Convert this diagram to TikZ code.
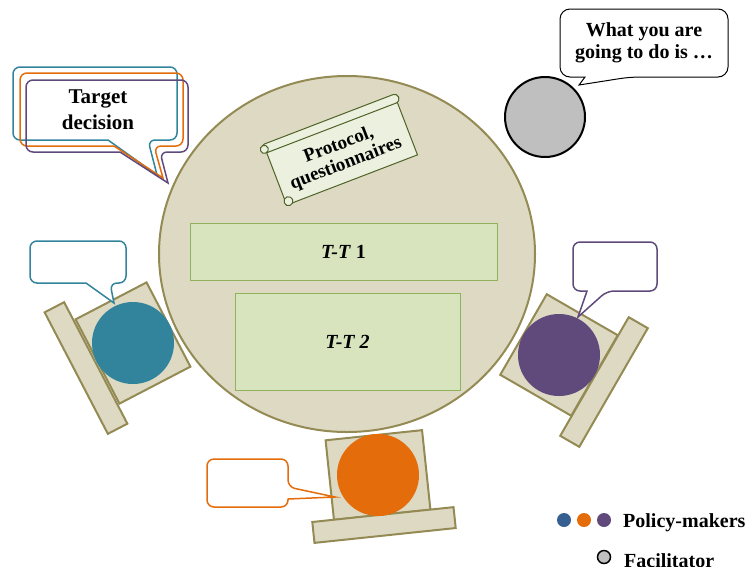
\documentclass[tikz,border=0pt]{standalone}
\usepackage{fontspec}
\setmainfont{Liberation Serif}
\usetikzlibrary{shapes.geometric}
\definecolor{tablefill}{HTML}{DDD9C3}
\definecolor{tolive}{HTML}{948A54}
\definecolor{ttfill}{HTML}{D7E4BD}
\definecolor{ttline}{HTML}{8EB35A}
\definecolor{scrollfill}{HTML}{EBF1DE}
\definecolor{scrollline}{HTML}{4F6228}
\definecolor{pmteal}{HTML}{31849B}
\definecolor{pmorange}{HTML}{E46C0A}
\definecolor{pmpurple}{HTML}{604A7B}
\definecolor{pmblue}{HTML}{376092}
\definecolor{facgray}{HTML}{BFBFBF}
\begin{document}
\begin{tikzpicture}[x=1pt,y=-1pt,
  seat/.style={draw=tolive, fill=tablefill, line width=2pt, inner sep=0pt},
  person/.style={circle, fill=#1, inner sep=0pt, minimum size=82pt},
  bub/.style={line width=1.5pt, rounded corners=7pt},
  lbl/.style={font=\bfseries\fontsize{20}{22}\selectfont, align=center},
  ttbox/.style={draw=ttline, fill=ttfill, line width=1pt, inner sep=0pt, font=\bfseries\fontsize{20}{22}\selectfont},
  dot/.style={circle, fill=#1, inner sep=0pt, minimum size=14pt}]
\useasboundingbox (0,0) rectangle (751,566);

% table
\node[ellipse, draw=tolive, fill=tablefill, line width=2pt, minimum width=376pt, minimum height=356pt, inner sep=0pt] (table) at (347,254) {};
\node[ttbox, minimum width=307pt, minimum height=57pt] (tt1) at (343.5,251.5) {\textit{T-T} 1};
\node[ttbox, minimum width=225pt, minimum height=97pt] (tt2) at (347.5,341.5) {\textit{T-T 2}};

% scroll
\begin{scope}[shift={(341,151)}, rotate=21]
  \draw[draw=scrollline, fill=scrollfill, line width=1pt] (-70,-27) rectangle (70,31);
  \draw[draw=scrollline, fill=scrollfill, line width=1pt, rounded corners=4pt] (-73,-34) rectangle (73,-25);
  \draw[draw=scrollline, fill=scrollfill, line width=1pt] (-71,-29) circle (4);
  \draw[draw=scrollline, fill=scrollfill, line width=1pt] (-67,28) circle (4.5);
  \node[lbl, transform shape, font=\bfseries\fontsize{19}{20}\selectfont] (scroll) at (0,4) {Protocol,\\questionnaires};
\end{scope}

% facilitator
\node[circle, draw=black, fill=facgray, line width=2pt, minimum size=80pt, inner sep=0pt] (fac) at (545,117) {};
\draw[line width=1pt, rounded corners=10pt, fill=white] (560,43) |- (728,9) |- (630,77) [sharp corners] -- (579,85) -- (585,77) [rounded corners=10pt] -| (560,43) -- cycle;
\node[lbl] (facsay) at (644,43) {What you are\\going to do is \dots};

% target decision bubbles
\draw[bub, draw=pmteal] (13,100) |- (177,67) |- (148,140) [sharp corners] -- (157,175) -- (108,140) [rounded corners=7pt] -| (13,100) -- cycle;
\draw[bub, draw=pmorange] (20,110) |- (183,73) |- (154,146) [sharp corners] -- (163,178) -- (114,146) [rounded corners=7pt] -| (20,110) -- cycle;
\draw[bub, draw=pmpurple] (26,115) |- (188,80) |- (160,152) [sharp corners] -- (168,183) -- (120,152) [rounded corners=7pt] -| (26,115) -- cycle;
\node[lbl, font=\bfseries\fontsize{21}{26}\selectfont] (target) at (98,110) {Target\\decision};

% left (teal) chair
\node[seat, minimum width=80pt, minimum height=95pt, rotate=27.5] (seatL) at (133,343) {};
\node[seat, minimum width=22pt, minimum height=137pt, rotate=27.5] (backL) at (86,368) {};
\node[person=pmteal] (pL) at (133,343) {};
\draw[bub, draw=pmteal, fill=white] (30,262) |- (126,241) |- (110,283) [sharp corners] -- (114,303) -- (86,283) [rounded corners=7pt] -| (30,262) -- cycle;

% right (purple) chair
\node[seat, minimum width=82pt, minimum height=93pt, rotate=-30] (seatR) at (559,355) {};
\node[seat, minimum width=22pt, minimum height=137pt, rotate=-30] (backR) at (604,382) {};
\node[person=pmpurple] (pR) at (559,355) {};
\draw[bub, draw=pmpurple, fill=white] (573,266) |- (657,242) |- (607,291) [sharp corners] -- (578,317) -- (587,291) [rounded corners=7pt] -| (573,266) -- cycle;

% bottom (orange) chair
\node[seat, minimum width=97pt, minimum height=80pt, rotate=6] (seatB) at (378,475) {};
\node[seat, minimum width=142pt, minimum height=21pt, rotate=6] (backB) at (384,525) {};
\node[person=pmorange] (pB) at (378,475) {};
\draw[bub, draw=pmorange, fill=white] (207,483) |- (288,459) -- (288,487) [sharp corners] -- (335,497) -- (288,499) [rounded corners=7pt] |- (207,507) -- cycle;

% legend
\node[dot=pmblue] (d1) at (564,520) {};
\node[dot=pmorange] (d2) at (584,520) {};
\node[dot=pmpurple] (d3) at (604,520) {};
\node[lbl, anchor=base west, inner sep=0pt] (pmtext) at (623,527) {Policy-makers};
\node[circle, draw=black, fill=facgray, line width=1.5pt, minimum size=13pt, inner sep=0pt] (d4) at (604,557) {};
\node[lbl, anchor=base west, inner sep=0pt] (factext) at (624,567) {Facilitator};
\end{tikzpicture}
\end{document}
